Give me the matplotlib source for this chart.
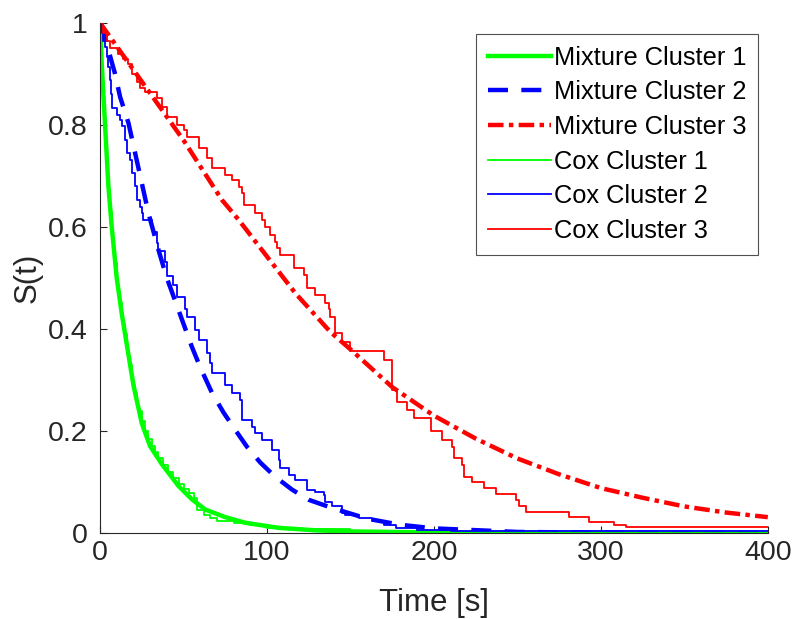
import numpy as np
import matplotlib
matplotlib.use('Agg')
import matplotlib.pyplot as plt

plt.rcParams['font.family'] = ['Liberation Sans', 'DejaVu Sans']

# mixture model survival curves
mix1_t = [0, 1, 3, 5, 7, 10, 13, 15, 18, 20, 25, 30, 37, 47, 55, 63, 75, 87, 107, 130, 150, 200, 250, 300, 400]
mix1_s = [1, 0.92, 0.80, 0.68, 0.60, 0.50, 0.43, 0.39, 0.33, 0.29, 0.215, 0.17, 0.135, 0.092, 0.066, 0.046, 0.031,
          0.02, 0.01, 0.005, 0.003, 0.001, 0.0004, 0.0002, 0.0]

mix2_t = [0, 5, 9, 12, 17, 21, 25, 29, 35, 40, 47, 55, 60, 67, 74, 81, 88, 96, 105, 115, 125, 139, 160, 180, 200,
          250, 300, 400]
mix2_s = [1, 0.947, 0.90, 0.855, 0.804, 0.745, 0.686, 0.627, 0.555, 0.50, 0.437, 0.365, 0.325, 0.275, 0.236, 0.202,
          0.169, 0.138, 0.11, 0.085, 0.065, 0.049, 0.028, 0.016, 0.009, 0.002, 0.0006, 0.0]

mix3_t = [0, 25, 50, 73, 83, 100, 117, 138, 150, 175, 200, 225, 250, 275, 300, 325, 350, 375, 400]
mix3_s = [1, 0.885, 0.77, 0.653, 0.614, 0.542, 0.47, 0.394, 0.36, 0.286, 0.23, 0.185, 0.146, 0.115, 0.088, 0.069,
          0.052, 0.04, 0.031]

# Cox model step curves
cox1_t = [0, 1, 2, 3, 4, 5, 6, 7, 8, 9, 10, 11, 12, 13, 14, 15, 16, 17, 18, 19, 20, 21, 22, 23, 25, 27, 29, 31, 33,
          35, 38, 41, 44, 47, 50, 53, 56, 58, 62, 66, 70, 80, 90, 100, 120, 150, 200, 250, 400]
cox1_s = [1, 0.90, 0.83, 0.77, 0.72, 0.67, 0.63, 0.59, 0.56, 0.53, 0.50, 0.475, 0.45, 0.43, 0.41, 0.39, 0.37, 0.345,
          0.33, 0.31, 0.29, 0.275, 0.255, 0.24, 0.22, 0.20, 0.185, 0.17, 0.158, 0.147, 0.133, 0.12, 0.108, 0.096,
          0.087, 0.078, 0.068, 0.045, 0.035, 0.03, 0.024, 0.02, 0.015, 0.01, 0.007, 0.004, 0.002, 0.001, 0.001]

cox2_t = [0, 1, 2, 3, 4, 5, 6, 6.6, 7, 10, 12, 13, 15, 16, 18, 19, 21, 22, 24, 25, 26, 31, 32, 34, 35, 39, 40, 44,
          46, 51, 52, 57, 59, 64, 66, 67, 75, 79, 84, 85, 91, 93, 97, 103, 107, 108, 113, 117, 124, 129, 134, 135,
          139, 145, 147, 155, 163, 170, 177, 190, 210, 250, 400]
cox2_s = [1, 0.98, 0.965, 0.953, 0.934, 0.914, 0.888, 0.86, 0.833, 0.82, 0.81, 0.797, 0.77, 0.745, 0.731, 0.705,
          0.68, 0.653, 0.64, 0.627, 0.614, 0.60, 0.59, 0.568, 0.552, 0.532, 0.503, 0.486, 0.463, 0.44, 0.424,
          0.398, 0.378, 0.352, 0.333, 0.313, 0.29, 0.274, 0.261, 0.222, 0.208, 0.195, 0.182, 0.163, 0.143, 0.127,
          0.114, 0.104, 0.084, 0.08, 0.075, 0.06, 0.052, 0.039, 0.036, 0.03, 0.023, 0.016, 0.009, 0.006, 0.004,
          0.003, 0.003]

cox3_t = [0, 2, 4, 6, 11, 14, 17, 19, 22, 24, 27, 34, 37, 40, 46, 50, 52, 59, 64, 67, 75, 79, 83, 85, 86, 93, 97,
          99, 102, 105, 106, 108, 116, 122, 124, 129, 135, 137, 138, 141, 145, 150, 170, 175, 178, 184, 188, 198,
          205, 211, 212, 217, 218, 223, 230, 237, 249, 251, 255, 281, 293, 308, 315, 400]
cox3_s = [1, 0.98, 0.965, 0.95, 0.94, 0.93, 0.92, 0.90, 0.885, 0.872, 0.865, 0.852, 0.836, 0.816, 0.80, 0.79, 0.777,
          0.755, 0.735, 0.715, 0.702, 0.692, 0.679, 0.666, 0.643, 0.627, 0.614, 0.60, 0.585, 0.57, 0.558, 0.545,
          0.519, 0.506, 0.48, 0.467, 0.45, 0.44, 0.424, 0.392, 0.375, 0.356, 0.339, 0.28, 0.257, 0.241, 0.225,
          0.199, 0.182, 0.169, 0.146, 0.133, 0.110, 0.099, 0.088, 0.076, 0.065, 0.053, 0.042, 0.032, 0.022, 0.016,
          0.0115, 0.0115]

fig = plt.figure(figsize=(7.94, 6.19), dpi=100)
ax = fig.add_axes([0.126, 0.139, 0.841, 0.824])

ax.plot(mix1_t, mix1_s, color=(0, 1, 0), lw=3.2, label='Mixture Cluster 1')
ax.plot(mix2_t, mix2_s, color=(0, 0, 1), lw=3.2, dashes=(4.5, 3), label='Mixture Cluster 2')
ax.plot(mix3_t, mix3_s, color=(1, 0, 0), lw=3.2, dashes=(3.5, 1.2, 1, 1.2), label='Mixture Cluster 3')
ax.step(cox1_t, cox1_s, where='post', color=(0, 1, 0), lw=1.3, label='Cox Cluster 1')
ax.step(cox2_t, cox2_s, where='post', color=(0, 0, 1), lw=1.3, label='Cox Cluster 2')
ax.step(cox3_t, cox3_s, where='post', color=(1, 0, 0), lw=1.3, label='Cox Cluster 3')

ax.set_xlim(0, 400)
ax.set_ylim(0, 1)
ax.set_xticks([0, 100, 200, 300, 400])
ax.set_yticks([0, 0.2, 0.4, 0.6, 0.8, 1])
ax.set_yticklabels(['0', '0.2', '0.4', '0.6', '0.8', '1'])
ax.tick_params(direction='in', labelsize=20.5, colors='0.15', length=5, width=0.8)
ax.tick_params(axis='y', pad=9)
ax.tick_params(axis='x', pad=5)
ax.spines['top'].set_visible(False)
ax.spines['right'].set_visible(False)
for s in ['left', 'bottom']:
    ax.spines[s].set_color('0.15')
ax.set_xlabel('Time [s]', fontsize=22.5, color='0.15', labelpad=16)
ax.set_ylabel('S(t)', fontsize=22.5, color='0.15', labelpad=4)

leg = ax.legend(loc='upper right', bbox_to_anchor=(0.986, 0.979), fontsize=18.3, frameon=True, fancybox=False,
                edgecolor='0.15', handlelength=2.5, handletextpad=0.1, borderpad=0.47, labelspacing=0.42,
                borderaxespad=0)
leg.get_frame().set_linewidth(0.8)

fig.savefig('out.png', dpi=100)
